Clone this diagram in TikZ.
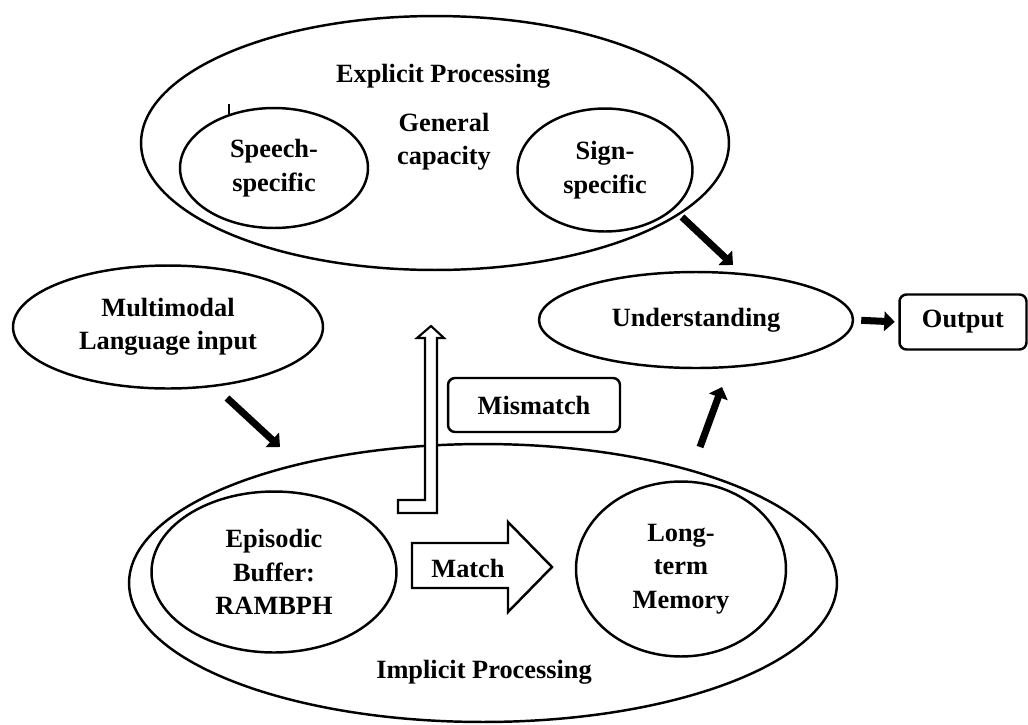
\documentclass[tikz,border=0pt]{standalone}
\usepackage{fontspec}
\setmainfont{Liberation Serif}
\usepackage{tikz}
\usetikzlibrary{arrows.meta,shapes.geometric}
\newcommand\lbl{\fontsize{15}{19}\selectfont\bfseries}
\tikzset{
  blob/.style={ellipse,draw,line width=1.4pt,inner sep=0pt,align=center,font=\lbl},
  tag/.style={draw,rounded corners=4pt,line width=1.4pt,font=\lbl},
  txt/.style={align=center,font=\lbl},
  fat/.style={line width=4pt,-{Triangle[length=6pt,width=11pt]}},
}

\begin{document}
\begin{tikzpicture}[x=.02cm,y=-.02cm]
  \useasboundingbox (0,0) rectangle (1028,724);
  % explicit side
  \node[blob,minimum width=11.76cm,minimum height=5.08cm] (expl) at (435,143) {};
  \node[txt] (expltxt) at (443,76) {Explicit Processing};
  \node[txt] (gen) at (444,142) {General\\capacity};
  \node[blob,minimum width=3.76cm,minimum height=2.4cm] (speech) at (274,168) {Speech-\\specific};
  \node[blob,minimum width=3.5cm,minimum height=2.46cm] (sign) at (605,170) {Sign-\\specific};
  \draw[line width=.6pt] (229,104)--(229,114);
  % input, understanding, output
  \node[blob,minimum width=6.2cm,minimum height=2.46cm] (multi) at (168,327) {Multimodal\\Language input};
  \node[blob,minimum width=6.28cm,minimum height=1.92cm] (und) at (696,320) {Understanding};
  \node[tag,minimum width=2.54cm,minimum height=1.1cm] (out) at (963,322) {Output};
  \node[tag,minimum width=3.44cm,minimum height=1.08cm] (mism) at (534,405) {Mismatch};
  % implicit side
  \node[blob,minimum width=14.16cm,minimum height=5.56cm] (impl) at (483,583) {};
  \node[txt] (impltxt) at (484,672) {Implicit Processing};
  \node[blob,minimum width=4.9cm,minimum height=3.22cm] (epis) at (274,572) {Episodic\\Buffer:\\RAMBPH};
  \node[blob,minimum width=4.2cm,minimum height=3.5cm] (ltm) at (681,569) {Long-\\term\\Memory};

  % hollow arrows
  \draw[line width=1.2pt,fill=white] (398,500)--(425,500)--(425,338)--(417,338)--(431,326)
    --(444,338)--(437,338)--(437,513)--(398,513)--cycle;
  \draw[line width=1.4pt,fill=white] (412,543)--(508,543)--(508,522)--(552,567)
    --(508,612)--(508,588)--(412,588)--cycle;
  \node[txt] (match) at (468,568) {Match};

  % thick arrows
  \coordinate (signend) at (682,217);
  \coordinate (undtop) at (733,265);
  \coordinate (multiend) at (227,398);
  \coordinate (impltop) at (280,447);
  \coordinate (ltmend) at (700,447);
  \coordinate (undbot) at (722,387);
  \draw[fat] (signend)--(undtop);
  \draw[fat] (multiend)--(impltop);
  \draw[fat] (ltmend)--(undbot);
  \draw[fat,shorten <=4pt,shorten >=2pt] (und.east)--(out.west);
\end{tikzpicture}
\end{document}
